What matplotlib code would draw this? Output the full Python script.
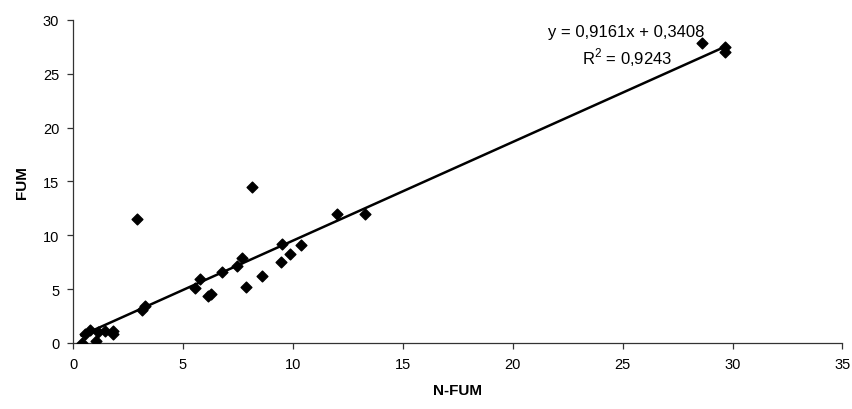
import matplotlib
matplotlib.use('Agg')
from matplotlib import pyplot as plt
import numpy as np

plt.rcParams['font.family'] = ['Liberation Sans', 'DejaVu Sans']
plt.rcParams['mathtext.fontset'] = 'custom'
plt.rcParams['mathtext.rm'] = 'Liberation Sans'

# values
n_fum = [0.39, 0.55, 0.77, 1.05, 1.15, 1.45, 1.83, 1.80,
         2.92, 3.15, 3.26, 5.53, 5.79, 6.15, 6.29, 6.79, 7.44, 7.68,
         7.88, 8.14, 8.58, 9.45, 9.51, 9.85, 10.36, 12.01, 13.3,
         28.6, 29.65, 29.65]
fum = [0.0, 0.84, 1.2, 0.2, 1.0, 1.08, 1.08, 0.8,
       11.55, 3.04, 3.47, 5.08, 5.94, 4.36, 4.52, 6.59, 7.12, 7.89,
       5.17, 14.5, 6.22, 7.49, 9.22, 8.26, 9.07, 11.95, 11.95,
       27.83, 27.51, 26.99]
slope = 0.9161
intercept = 0.3408
r2_text = '0,9243'

fig = plt.figure(figsize=(8.53, 4.10), dpi=100)
ax = fig.add_axes([0.0856, 0.161, 0.902, 0.788])

ax.scatter(n_fum, fum, marker='D', s=30, color='black', zorder=3)
x_line = np.array([min(n_fum), max(n_fum)])
ax.plot(x_line, slope * x_line + intercept, color='black', lw=1.8, zorder=2)

ax.set_xlim(0, 35)
ax.set_ylim(0, 30)
ax.set_xticks(range(0, 36, 5))
ax.set_yticks(range(0, 31, 5))
for s in ['top', 'right']:
    ax.spines[s].set_visible(False)
for s in ['left', 'bottom']:
    ax.spines[s].set_color('#333333')
    ax.spines[s].set_linewidth(0.9)
ax.tick_params(direction='out', length=4, width=0.9, color='#333333',
               labelsize=10.5, pad=6)
ax.set_xlabel('N-FUM', fontsize=11, fontweight='bold', labelpad=9)
ax.set_ylabel('FUM', fontsize=11, fontweight='bold', labelpad=10)

ax.text(25.17, 28.9, 'y = 0,9161x + 0,3408', ha='center', va='center', fontsize=12)
ax.text(25.2, 26.55, 'R$^{2}$ = ' + r2_text, ha='center', va='center', fontsize=12)

plt.savefig('out.png', dpi=100)
